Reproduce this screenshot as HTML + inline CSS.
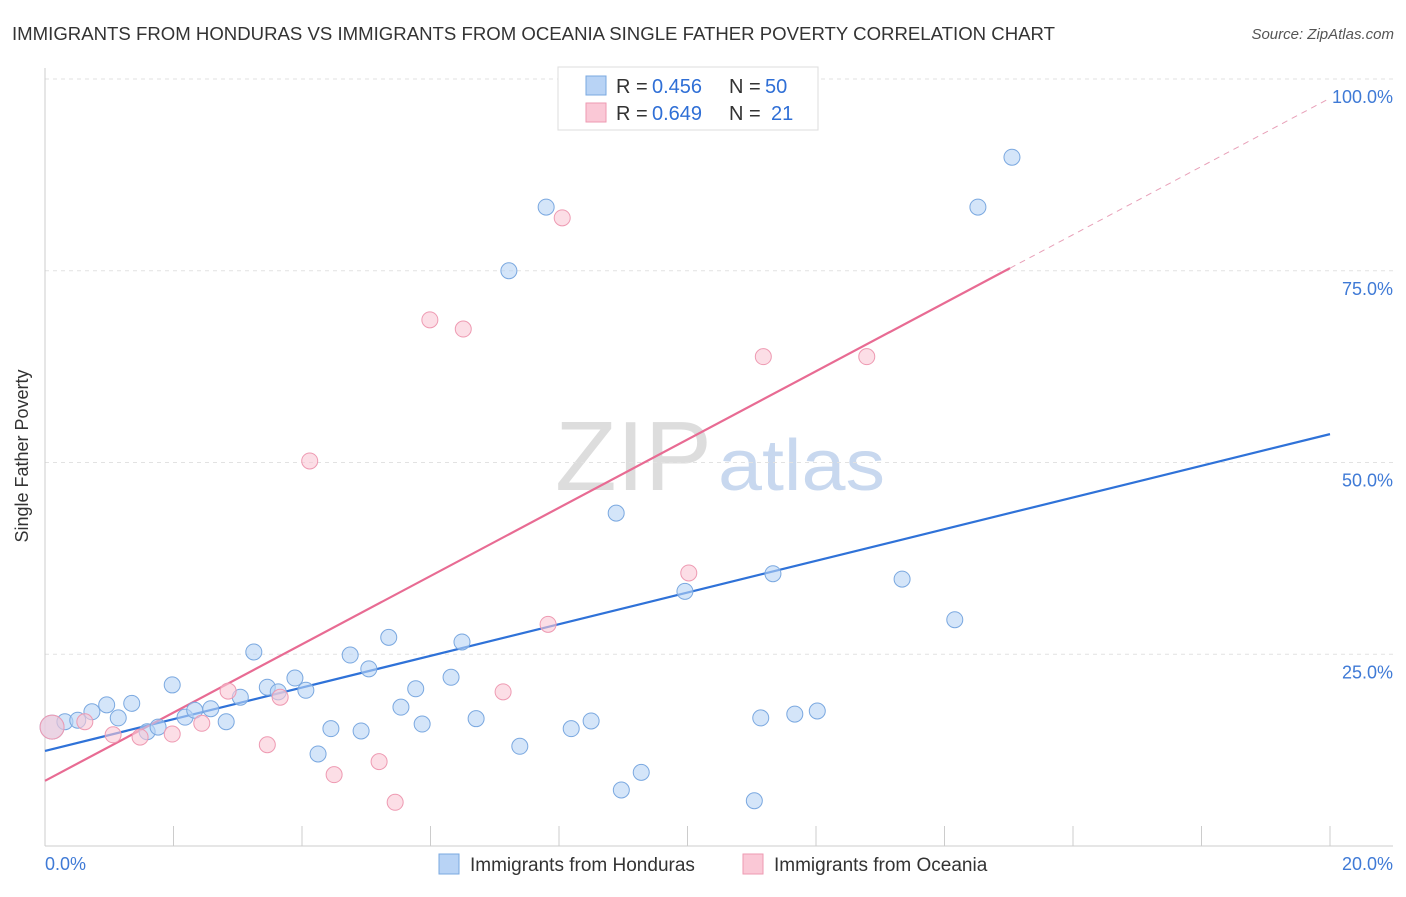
<!DOCTYPE html>
<html><head><meta charset="utf-8">
<style>
body{margin:0;background:#fff;font-family:"Liberation Sans",sans-serif;}
svg text{font-family:"Liberation Sans",sans-serif;}
</style></head>
<body>
<svg id="chart" width="1406" height="892" viewBox="0 0 1406 892" xmlns="http://www.w3.org/2000/svg">
<text x="12" y="40" font-size="18" fill="#333" textLength="1043" lengthAdjust="spacingAndGlyphs">IMMIGRANTS FROM HONDURAS VS IMMIGRANTS FROM OCEANIA SINGLE FATHER POVERTY CORRELATION CHART</text>
<text x="1394" y="39" font-size="15" fill="#555" text-anchor="end" font-style="italic">Source: ZipAtlas.com</text>
<text x="28" y="456" font-size="18" fill="#333" text-anchor="middle" transform="rotate(-90 28 456)">Single Father Poverty</text>
<text x="555" y="490" font-size="98" fill="#ddd" textLength="157" lengthAdjust="spacingAndGlyphs" font-family="Liberation Serif">ZIP</text>
<text x="718" y="490" font-size="72" fill="#c8d8ef" textLength="167" lengthAdjust="spacingAndGlyphs">atlas</text>
<g id="grid"></g>
<g id="axes"></g>
<g id="lines"></g>
<g id="points"></g>
<g>
<rect x="558" y="67" width="260" height="63" fill="#fff" stroke="#ddd"/>
<rect x="586" y="76" width="20" height="19" fill="#b8d3f5" stroke="#7aa8e0"/>
<text x="616" y="93" font-size="20" fill="#333">R =</text>
<text x="652" y="93" font-size="20" fill="#2f6fd6">0.456</text>
<text x="729" y="93" font-size="20" fill="#333">N =</text>
<text x="765" y="93" font-size="20" fill="#2f6fd6">50</text>
<rect x="586" y="103" width="20" height="19" fill="#fac8d6" stroke="#ee9ab2"/>
<text x="616" y="120" font-size="20" fill="#333">R =</text>
<text x="652" y="120" font-size="20" fill="#2f6fd6">0.649</text>
<text x="729" y="120" font-size="20" fill="#333">N =</text>
<text x="771" y="120" font-size="20" fill="#2f6fd6">21</text>
</g>
<g>
<rect x="439" y="854" width="20" height="20" fill="#b8d3f5" stroke="#7aa8e0"/>
<text x="470" y="871" font-size="19" fill="#333">Immigrants from Honduras</text>
<rect x="743" y="854" width="20" height="20" fill="#fac8d6" stroke="#ee9ab2"/>
<text x="774" y="871" font-size="19" fill="#333">Immigrants from Oceania</text>
</g>
</svg>
<script>
const blueX=[0.11,0.31,0.51,0.73,0.96,1.14,1.35,1.59,1.76,1.98,2.18,2.33,2.58,2.82,3.04,3.25,3.46,3.63,3.89,4.06,4.25,4.45,4.75,4.92,5.04,5.35,5.54,5.77,5.87,6.32,6.49,6.71,7.22,7.39,7.80,8.19,8.50,8.89,8.97,9.28,9.96,11.04,11.14,11.33,11.67,12.02,13.34,14.16,14.52,15.05];
const blueY=[15.5,16.2,16.4,17.5,18.4,16.7,18.6,14.9,15.5,21.0,16.8,17.7,17.9,16.2,19.4,25.3,20.7,20.1,21.9,20.3,12.0,15.3,24.9,15.0,23.1,27.2,18.1,20.5,15.9,22.0,26.6,16.6,75.0,13.0,83.3,15.3,16.3,43.4,7.3,9.6,33.2,5.9,16.7,35.5,17.2,17.6,34.8,29.5,83.3,89.8];
const pinkX=[0.11,0.62,1.06,1.48,1.98,2.44,2.85,3.46,3.66,4.12,4.50,5.20,5.45,5.99,6.51,7.13,7.83,8.05,10.02,11.18,12.79];
const pinkY=[15.5,16.2,14.5,14.2,14.6,16.0,20.2,13.2,19.4,50.2,9.3,11.0,5.7,68.6,67.4,20.1,28.9,81.9,35.6,63.8,63.8];
const yTicks=[25,50,75,100];
const xTickLabels=["0.0%","20.0%"];
const blueTrend=[12.4,53.7];
const pinkTrend=[8.5,97.5];
const pinkSolidEnd=15.02;
const NS="http://www.w3.org/2000/svg";
const X=v=>45+v*64.25, Y=v=>846-v*7.67;
function mk(tag,attrs,parent){const e=document.createElementNS(NS,tag);for(const k in attrs)e.setAttribute(k,attrs[k]);document.getElementById(parent).appendChild(e);return e;}
yTicks.forEach(t=>{
 const l=mk('line',{x1:45,x2:1393,y1:Y(t),y2:Y(t),stroke:'#e2e2e2','stroke-dasharray':'4,4'},'grid');
 
 
 const tx=mk('text',{x:1393,y:Y(t)+24,'font-size':18,fill:'#3f7ad6','text-anchor':'end'},'grid');
 tx.textContent=t.toFixed(1)+'%';
 
 
});
const ax=mk('line',{x1:45,x2:45,y1:68,y2:846,stroke:'#ccc'},'axes');


const bx=mk('line',{x1:45,x2:1393,y1:846,y2:846,stroke:'#ccc'},'axes');


for(let i=0;i<=10;i++){const t=mk('line',{x1:X(i*2),x2:X(i*2),y1:826,y2:846,stroke:'#ccc'},'axes');
 
 }
[[0,'start',45],[20,'end',1393]].forEach((d,i)=>{const t=mk('text',{x:d[2],y:870,'font-size':18,fill:'#3f7ad6','text-anchor':d[1]},'axes');t.textContent=xTickLabels[i];
 
 });
function pts(xs,ys,fill,stroke,name){xs.forEach((x,i)=>{const c=mk('circle',{cx:X(x),cy:Y(ys[i]),r:i===0?12:8,fill:fill,'fill-opacity':0.6,stroke:stroke,'stroke-width':1},'points');
 
 });}
pts(blueX,blueY,'#b8d3f5','#7aa8e0','honduras-point');
pts(pinkX,pinkY,'#fac8d6','#ee9ab2','oceania-point');
const bl=mk('line',{x1:X(0),y1:Y(blueTrend[0]),x2:X(20),y2:Y(blueTrend[1]),stroke:'#2f72d8','stroke-width':2.2},'lines');


const ps=(pinkTrend[1]-pinkTrend[0])/20, pe=pinkTrend[0]+ps*pinkSolidEnd;
const pl=mk('line',{x1:X(0),y1:Y(pinkTrend[0]),x2:X(pinkSolidEnd),y2:Y(pe),stroke:'#e86b93','stroke-width':2.2},'lines');


const pd=mk('line',{x1:X(pinkSolidEnd),y1:Y(pe),x2:X(20),y2:Y(pinkTrend[1]),stroke:'#e8a0b8','stroke-width':1,'stroke-dasharray':'6,5'},'lines');


</script>
</body></html>
